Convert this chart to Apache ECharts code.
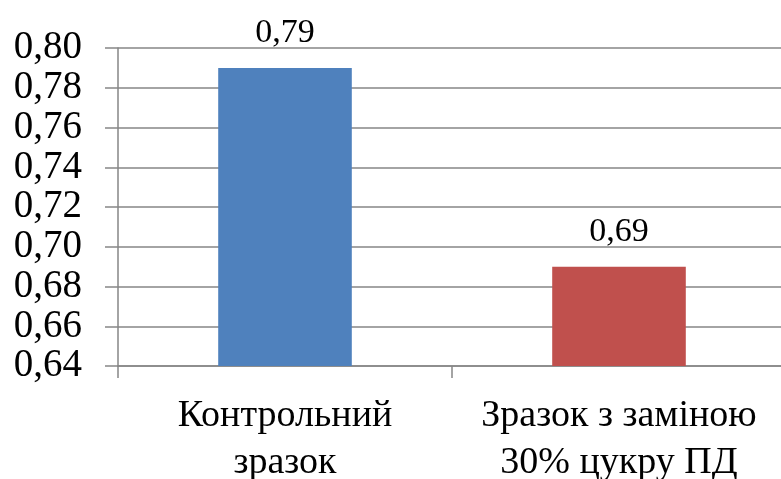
<!DOCTYPE html>
<html>
<head>
<meta charset="utf-8">
<script src="https://cdn.jsdelivr.net/npm/echarts@6/dist/echarts.min.js"></script>
<style>
  html, body { margin: 0; padding: 0; background: #fff; }
  #chart { width: 781px; height: 479px; }
</style>
</head>
<body>
<div id="chart"></div>
<script>
// дані
const categories = ['Контрольний\nзразок', 'Зразок з заміною\n30% цукру ПД']
const values = [0.79, 0.69]
const barColors = ['#4F81BD', '#C0504D']

const fmt = v => v.toFixed(2).replace('.', ',')
const font = "'Liberation Serif', 'Times New Roman', serif"
const gray = '#868686'

const myChart = echarts.init(document.getElementById('chart'))
const option = {
  animation: false,
  grid: { left: 118, right: -5, top: 48, bottom: 113, outerBoundsMode: 'none', containLabel: false },
  xAxis: {
    type: 'category',
    data: categories,
    axisLine: { lineStyle: { color: gray, width: 1.5 } },
    axisTick: { show: true, interval: 0, length: 12, lineStyle: { color: gray, width: 1.5 } },
    axisLabel: {
      interval: 0,
      margin: 27,
      color: '#000',
      fontFamily: font,
      fontSize: 38,
      lineHeight: 47,
    },
  },
  yAxis: {
    type: 'value',
    min: 0.64,
    max: 0.8,
    interval: 0.02,
    axisLine: { show: true, lineStyle: { color: gray, width: 1.5 } },
    axisTick: { show: true, length: 13, lineStyle: { color: gray, width: 1.5 } },
    splitLine: { show: true, lineStyle: { color: gray, width: 1.5 } },
    axisLabel: {
      margin: 36,
      color: '#000',
      fontFamily: font,
      fontSize: 39,
      formatter: fmt,
    },
  },
  series: [
    {
      type: 'bar',
      barWidth: '40%',
      data: values.map((v, i) => ({ value: v, itemStyle: { color: barColors[i] } })),
      label: {
        show: true,
        position: 'top',
        distance: 18,
        color: '#000',
        fontFamily: font,
        fontSize: 34,
        formatter: p => fmt(p.value),
      },
    },
  ],
}
myChart.setOption(option)
</script>
</body>
</html>
